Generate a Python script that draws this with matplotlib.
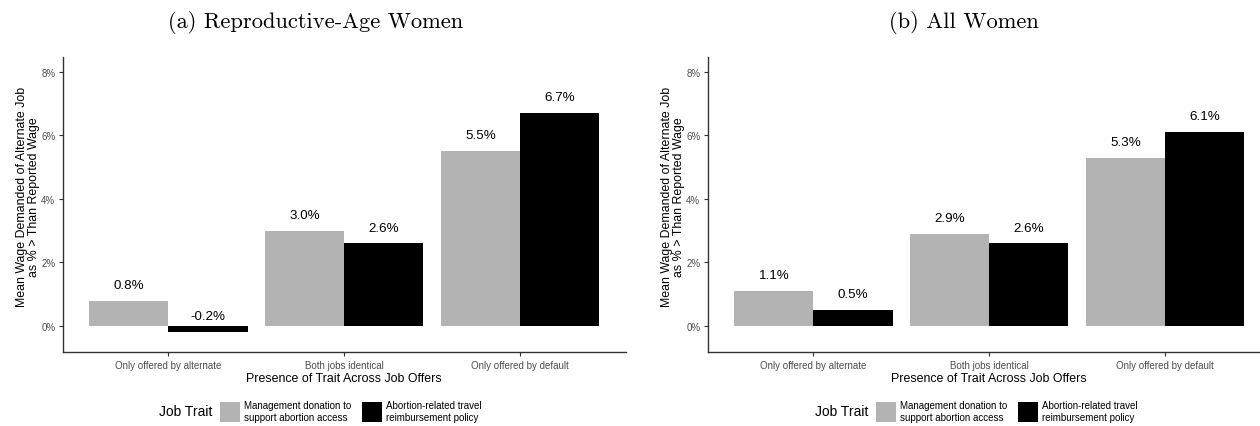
import matplotlib
matplotlib.use("Agg")
import matplotlib.pyplot as plt
from matplotlib.patches import Patch
import numpy as np

plt.rcParams['font.family'] = ['Liberation Sans', 'DejaVu Sans']

categories = ["Only offered by alternate", "Both jobs identical", "Only offered by default"]
traits = ["Management donation to\nsupport abortion access",
          "Abortion-related travel\nreimbursement policy"]
trait_colors = ["#B3B3B3", "#000000"]

# mean wage premium (%) by trait, panel (a) reproductive-age women
repro_donation = [0.8, 3.0, 5.5]
repro_travel = [-0.2, 2.6, 6.7]
# panel (b) all women
all_donation = [1.1, 2.9, 5.3]
all_travel = [0.5, 2.6, 6.1]

y_ticks = [0, 2, 4, 6, 8]

W, H = 1260, 427
fig = plt.figure(figsize=(W / 100, H / 100), dpi=100)


def panel(left_px, legend_px, title, title_x, series):
    ax = fig.add_axes([left_px / W, 1 - 353 / H, 562.5 / W, 295 / H])
    x = np.arange(len(categories))
    bw = 0.45
    for i, vals in enumerate(series):
        pos = x + (i - 0.5) * bw
        ax.bar(pos, vals, width=bw, color=trait_colors[i], linewidth=0)
        for px, v in zip(pos, vals):
            ax.text(px, v + 0.5, f"{v:.1f}%", ha="center", va="center",
                    fontsize=9.6, color="black")
    ax.set_xlim(-0.6, len(categories) - 0.4)
    ax.set_ylim(-0.82, 8.47)
    ax.set_yticks(y_ticks)
    ax.set_yticklabels([f"{t}%" for t in y_ticks])
    ax.set_xticks(x)
    ax.set_xticklabels(categories)
    for s in ["top", "right"]:
        ax.spines[s].set_visible(False)
    for s in ["left", "bottom"]:
        ax.spines[s].set_color("#333333")
        ax.spines[s].set_linewidth(1.0)
    ax.tick_params(axis="both", length=3, width=0.8, color="#333333",
                   labelsize=7.0, labelcolor="#4D4D4D", pad=2.5)
    ax.set_xlabel("Presence of Trait Across Job Offers", fontsize=8.9, labelpad=1.5)
    ax.set_ylabel("Mean Wage Demanded of Alternate Job\nas % > Than Reported Wage",
                  fontsize=8.9, linespacing=0.95)
    ax.yaxis.set_label_coords(-23 / 562.5, 0.53)

    fig.text(title_x / W, 1 - 22 / H, title, family="cmr10", fontsize=16.2,
             ha="center", va="center")

    # legend row below the axis title
    fig.text((legend_px - 8) / W, 1 - 412 / H, "Job Trait", fontsize=10,
             ha="right", va="center")
    handles = [Patch(facecolor=c, edgecolor="none") for c in trait_colors]
    fig.legend(handles, traits, loc="center left", ncol=2,
               bbox_to_anchor=(legend_px / W, 1 - 412 / H),
               frameon=False, fontsize=7.0, handlelength=2.05, handleheight=2.8,
               handletextpad=0.4, columnspacing=1.1, borderpad=0, borderaxespad=0)
    return ax


panel(63, 220, "(a) Reproductive-Age Women", 316, [repro_donation, repro_travel])
panel(708, 876, "(b) All Women", 964, [all_donation, all_travel])

fig.savefig("out.png", dpi=100)
